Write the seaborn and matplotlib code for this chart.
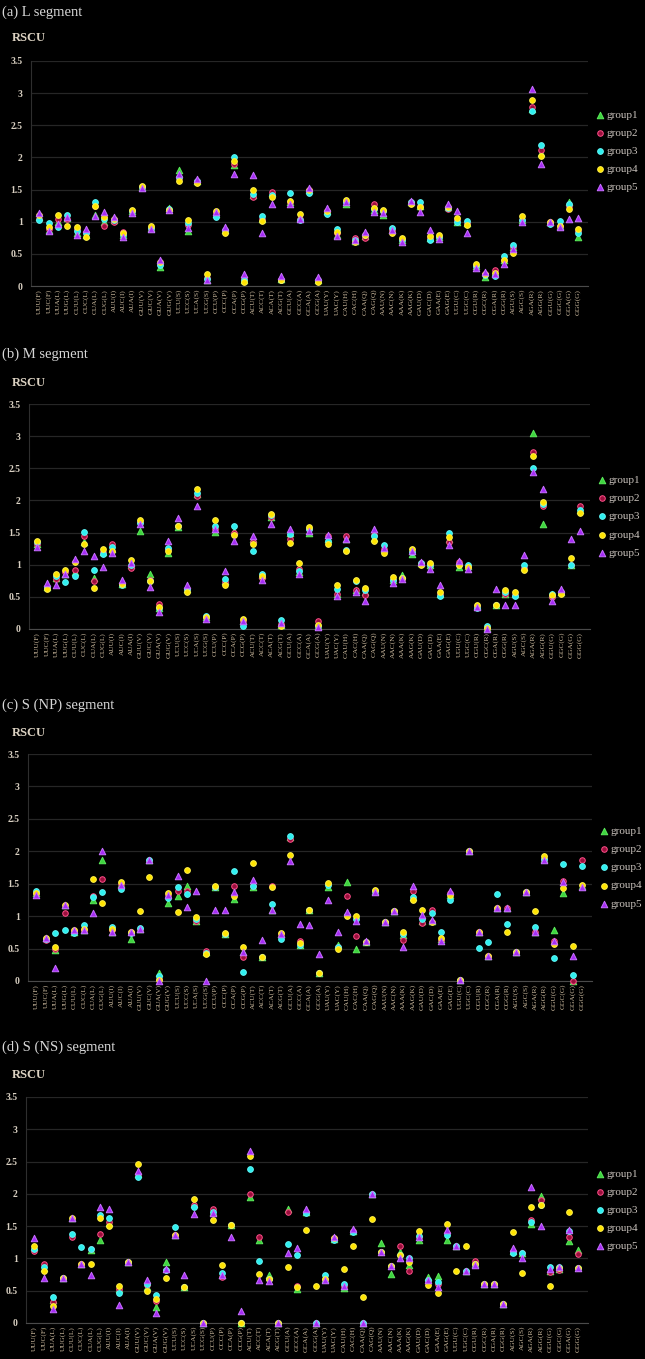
import pandas as pd
import matplotlib.pyplot as plt
import seaborn as sns

# Codon labels (x axis)
codons = [
    "UUU(F)", "UUC(F)", "UUA(L)", "UUG(L)", "CUU(L)", "CUC(L)", "CUA(L)", "CUG(L)",
    "AUU(I)", "AUC(I)", "AUA(I)", "GUU(V)", "GUC(V)", "GUA(V)", "GUG(V)",
    "UCU(S)", "UCC(S)", "UCA(S)", "UCG(S)", "CCU(P)", "CCC(P)", "CCA(P)", "CCG(P)",
    "ACU(T)", "ACC(T)", "ACA(T)", "ACG(T)", "GCU(A)", "GCC(A)", "GCA(A)", "GCG(A)",
    "UAU(Y)", "UAC(Y)", "CAU(H)", "CAC(H)", "CAA(Q)", "CAG(Q)", "AAU(N)", "AAC(N)",
    "AAA(K)", "AAG(K)", "GAU(D)", "GAC(D)", "GAA(E)", "GAG(E)", "UGU(C)", "UGC(C)",
    "CGU(R)", "CGC(R)", "CGA(R)", "CGG(R)", "AGU(S)", "AGC(S)", "AGA(R)", "AGG(R)",
    "GGU(G)", "GGC(G)", "GGA(G)", "GGG(G)",
]
groups = ["group1", "group2", "group3", "group4", "group5"]

# (a) L segment
L_g1 = [1.08, 0.87, 1.00, 1.06, 0.82, 0.80, 1.10, 1.00, 1.02, 0.79, 1.16, 1.54, 0.90, 0.29, 1.22,
        1.80, 0.85, 1.63, 0.10, 1.12, 0.87, 1.88, 0.10, 1.41, 1.05, 1.44, 0.11, 1.30, 1.06, 1.49, 0.10,
        1.17, 0.80, 1.28, 0.70, 0.78, 1.18, 1.10, 0.87, 0.71, 1.30, 1.24, 0.75, 0.76, 1.23, 1.00, 0.98,
        0.31, 0.14, 0.20, 0.40, 0.60, 1.02, 2.76, 2.07, 1.00, 0.94, 1.31, 0.76]
L_g2 = [1.05, 0.88, 1.04, 1.05, 0.88, 0.84, 1.25, 0.94, 1.00, 0.84, 1.16, 1.54, 0.90, 0.35, 1.18,
        1.68, 0.95, 1.63, 0.12, 1.13, 0.87, 1.90, 0.12, 1.39, 1.05, 1.46, 0.10, 1.30, 1.05, 1.49, 0.10,
        1.17, 0.82, 1.30, 0.74, 0.74, 1.28, 1.16, 0.87, 0.71, 1.30, 1.25, 0.75, 0.76, 1.20, 1.03, 0.98,
        0.31, 0.18, 0.25, 0.40, 0.60, 1.02, 2.78, 2.11, 1.00, 0.94, 1.24, 0.85]
L_g3 = [1.02, 0.98, 0.92, 1.10, 0.85, 0.82, 1.30, 1.05, 1.03, 0.80, 1.16, 1.54, 0.90, 0.33, 1.20,
        1.70, 0.98, 1.63, 0.11, 1.07, 0.87, 2.00, 0.10, 1.43, 1.09, 1.42, 0.09, 1.45, 1.02, 1.45, 0.10,
        1.12, 0.89, 1.30, 0.72, 0.80, 1.20, 1.16, 0.91, 0.71, 1.30, 1.30, 0.72, 0.76, 1.22, 1.00, 1.01,
        0.31, 0.17, 0.15, 0.47, 0.64, 1.02, 2.73, 2.19, 0.96, 1.01, 1.27, 0.82]
L_g4 = [1.10, 0.92, 1.10, 0.93, 0.92, 0.76, 1.24, 1.07, 1.04, 0.82, 1.19, 1.56, 0.93, 0.37, 1.18,
        1.63, 1.02, 1.61, 0.18, 1.17, 0.83, 1.94, 0.06, 1.49, 1.01, 1.39, 0.09, 1.33, 1.12, 1.49, 0.07,
        1.17, 0.84, 1.34, 0.69, 0.79, 1.21, 1.19, 0.83, 0.74, 1.28, 1.23, 0.78, 0.80, 1.23, 1.06, 0.95,
        0.34, 0.19, 0.20, 0.41, 0.51, 1.09, 2.89, 2.02, 0.99, 0.94, 1.20, 0.89]
L_g5 = [1.14, 0.86, 0.97, 1.08, 0.80, 0.89, 1.09, 1.15, 1.08, 0.77, 1.14, 1.52, 0.88, 0.41, 1.18,
        1.74, 0.91, 1.66, 0.09, 1.15, 0.92, 1.75, 0.18, 1.73, 0.83, 1.27, 0.15, 1.28, 1.05, 1.52, 0.14,
        1.22, 0.78, 1.30, 0.71, 0.84, 1.15, 1.14, 0.87, 0.68, 1.33, 1.15, 0.87, 0.73, 1.27, 1.17, 0.83,
        0.28, 0.22, 0.19, 0.35, 0.58, 1.00, 3.06, 1.90, 1.00, 0.92, 1.04, 1.06]

# (b) M segment
M_g1 = [1.33, 0.66, 0.80, 0.85, 0.88, 1.35, 0.79, 1.20, 1.25, 0.70, 1.00, 1.53, 0.85, 0.33, 1.18,
        1.58, 0.62, 2.10, 0.18, 1.51, 0.74, 1.52, 0.12, 1.40, 0.84, 1.74, 0.07, 1.50, 0.88, 1.49, 0.05,
        1.40, 0.55, 1.40, 0.60, 0.58, 1.41, 1.25, 0.77, 0.84, 1.16, 1.02, 1.00, 0.55, 1.40, 0.97, 0.98,
        0.36, 0.02, 0.37, 0.54, 0.55, 0.97, 3.05, 1.63, 0.55, 0.58, 1.00, 1.85]
M_g2 = [1.33, 0.65, 0.78, 0.88, 0.92, 1.44, 0.74, 1.20, 1.33, 0.70, 0.95, 1.66, 0.76, 0.39, 1.24,
        1.60, 0.62, 2.07, 0.18, 1.55, 0.73, 1.50, 0.13, 1.36, 0.80, 1.75, 0.08, 1.40, 0.93, 1.55, 0.13,
        1.44, 0.54, 1.44, 0.60, 0.53, 1.47, 1.25, 0.77, 0.78, 1.20, 1.02, 1.00, 0.55, 1.36, 1.05, 0.97,
        0.36, 0.02, 0.37, 0.55, 0.53, 0.95, 2.76, 1.92, 0.50, 0.58, 0.99, 1.92]
M_g3 = [1.35, 0.66, 0.82, 0.73, 0.82, 1.51, 0.92, 1.16, 1.27, 0.69, 1.00, 1.65, 0.75, 0.33, 1.26,
        1.60, 0.62, 2.12, 0.20, 1.60, 0.78, 1.61, 0.04, 1.22, 0.86, 1.77, 0.14, 1.48, 0.90, 1.55, 0.05,
        1.37, 0.62, 1.23, 0.74, 0.60, 1.45, 1.30, 0.77, 0.80, 1.20, 1.02, 1.00, 0.51, 1.49, 1.00, 1.00,
        0.32, 0.04, 0.37, 0.57, 0.52, 0.99, 2.51, 1.95, 0.55, 0.58, 1.00, 1.85]
M_g4 = [1.37, 0.63, 0.86, 0.92, 1.04, 1.32, 0.64, 1.24, 1.21, 0.70, 1.08, 1.70, 0.75, 0.35, 1.22,
        1.61, 0.57, 2.18, 0.18, 1.70, 0.69, 1.47, 0.16, 1.32, 0.82, 1.79, 0.04, 1.34, 1.02, 1.59, 0.07,
        1.32, 0.68, 1.22, 0.77, 0.64, 1.37, 1.18, 0.81, 0.80, 1.25, 1.00, 1.03, 0.58, 1.43, 1.00, 0.97,
        0.38, 0.02, 0.37, 0.60, 0.58, 0.92, 2.69, 1.98, 0.53, 0.54, 1.10, 1.81]
M_g5 = [1.28, 0.72, 0.68, 0.85, 1.09, 1.21, 1.13, 0.97, 1.18, 0.76, 1.03, 1.64, 0.66, 0.27, 1.37,
        1.72, 0.68, 1.92, 0.15, 1.55, 0.91, 1.37, 0.12, 1.44, 0.77, 1.64, 0.10, 1.56, 0.85, 1.52, 0.03,
        1.46, 0.52, 1.40, 0.58, 0.44, 1.56, 1.26, 0.72, 0.78, 1.22, 1.04, 0.94, 0.68, 1.30, 1.06, 0.93,
        0.35, 0.00, 0.63, 0.37, 0.37, 1.15, 2.44, 2.18, 0.44, 0.62, 1.40, 1.53]

# (c) S (NP) segment
NP_g1 = [1.36, 0.66, 0.48, 1.17, 0.76, 0.78, 1.25, 1.87, 0.76, 1.50, 0.65, 0.80, 1.86, 0.13, 1.20,
         1.31, 1.46, 0.93, 0.44, 1.45, 0.73, 1.27, 0.45, 1.45, 0.37, 1.10, 0.72, 2.22, 0.55, 1.09, 0.13,
         1.45, 0.55, 1.52, 0.49, 0.60, 1.39, 0.91, 1.08, 0.71, 1.30, 0.92, 0.93, 0.64, 1.33, 0.01, 2.00,
         0.75, 0.38, 1.13, 1.13, 0.45, 1.37, 0.75, 1.88, 0.79, 1.36, 0.00, 1.47]
NP_g2 = [1.35, 0.63, 0.50, 1.05, 0.77, 0.78, 1.31, 1.57, 0.78, 1.50, 0.75, 0.80, 1.87, 0.03, 1.32,
         1.38, 1.39, 0.92, 0.46, 1.45, 0.73, 1.46, 0.37, 1.46, 0.37, 1.46, 0.73, 2.19, 0.62, 1.09, 0.13,
         1.50, 0.52, 1.31, 0.70, 0.60, 1.39, 0.91, 1.08, 0.63, 1.38, 0.90, 1.09, 0.63, 1.36, 0.01, 2.00,
         0.75, 0.38, 1.13, 1.13, 0.45, 1.37, 0.75, 1.88, 0.62, 1.54, 0.00, 1.86]
NP_g3 = [1.38, 0.65, 0.74, 0.79, 0.74, 0.86, 1.30, 1.37, 0.84, 1.42, 0.74, 0.82, 1.86, 0.08, 1.28,
         1.45, 1.34, 0.95, 0.43, 1.45, 0.73, 1.69, 0.14, 1.46, 0.37, 1.19, 0.64, 2.24, 0.56, 1.09, 0.13,
         1.48, 0.52, 1.02, 0.95, 0.60, 1.39, 0.91, 1.08, 0.73, 1.30, 0.95, 1.05, 0.75, 1.25, 0.01, 2.00,
         0.51, 0.60, 1.34, 0.88, 0.45, 1.37, 0.83, 1.88, 0.35, 1.81, 0.09, 1.78]
NP_g4 = [1.35, 0.67, 0.52, 1.17, 0.78, 0.80, 1.57, 1.20, 0.80, 1.53, 0.76, 1.08, 1.60, 0.02, 1.36,
         1.06, 1.71, 0.99, 0.42, 1.46, 0.74, 1.31, 0.52, 1.82, 0.37, 1.45, 0.74, 1.95, 0.58, 1.09, 0.13,
         1.51, 0.50, 1.00, 1.00, 0.60, 1.41, 0.91, 1.08, 0.75, 1.25, 1.09, 0.91, 0.67, 1.33, 0.01, 2.00,
         0.75, 0.38, 1.13, 0.75, 0.45, 1.37, 1.08, 1.93, 0.57, 1.43, 0.54, 1.48]
NP_g5 = [1.33, 0.67, 0.20, 1.17, 0.78, 0.78, 1.05, 2.01, 0.75, 1.48, 0.75, 0.80, 1.86, 0.00, 1.33,
         1.62, 1.14, 1.38, 0.00, 1.09, 1.09, 1.37, 0.45, 1.56, 0.63, 1.09, 0.72, 1.85, 0.88, 0.86, 0.42,
         1.25, 0.75, 1.06, 0.93, 0.62, 1.37, 0.91, 1.08, 0.53, 1.46, 1.02, 0.94, 0.62, 1.38, 0.01, 2.00,
         0.75, 0.38, 1.13, 1.13, 0.45, 1.37, 0.75, 1.87, 0.62, 1.53, 0.38, 1.45]

# (d) S (NS) segment
NS_g1 = [1.18, 0.85, 0.35, 0.69, 1.62, 0.92, 1.13, 1.28, 1.55, 0.53, 0.94, 2.30, 0.55, 0.25, 0.94,
         1.36, 0.56, 1.84, 0.00, 1.72, 0.75, 1.52, 0.00, 1.95, 1.28, 0.74, 0.00, 1.77, 0.52, 1.72, 0.00,
         0.68, 1.30, 0.54, 1.43, 0.00, 2.00, 1.24, 0.76, 1.10, 0.90, 1.28, 0.71, 0.73, 1.28, 1.19, 0.80,
         0.92, 0.61, 0.61, 0.30, 1.12, 1.09, 1.54, 1.97, 0.80, 0.83, 1.27, 1.13]
NS_g2 = [1.12, 0.91, 0.33, 0.69, 1.33, 0.92, 1.15, 1.38, 1.56, 0.52, 0.94, 2.30, 0.59, 0.34, 0.82,
         1.36, 0.56, 1.82, 0.00, 1.77, 0.71, 1.52, 0.00, 2.00, 1.33, 0.68, 0.00, 1.72, 0.57, 1.72, 0.00,
         0.68, 1.32, 0.58, 1.43, 0.00, 2.00, 1.10, 0.89, 1.20, 0.80, 1.33, 0.65, 0.60, 1.40, 1.19, 0.80,
         0.96, 0.61, 0.61, 0.30, 1.12, 1.09, 1.59, 1.90, 0.79, 0.82, 1.33, 1.07]
NS_g3 = [1.15, 0.86, 0.40, 0.69, 1.38, 1.17, 1.15, 1.68, 1.63, 0.46, 0.94, 2.26, 0.60, 0.43, 0.82,
         1.49, 0.56, 1.80, 0.00, 1.72, 0.77, 1.52, 0.00, 2.38, 0.96, 0.68, 0.00, 1.23, 1.06, 1.70, 0.00,
         0.74, 1.28, 0.61, 1.41, 0.00, 2.00, 1.10, 0.89, 1.05, 1.00, 1.35, 0.66, 0.64, 1.37, 1.19, 0.80,
         0.92, 0.61, 0.61, 0.30, 1.09, 1.09, 1.56, 1.82, 0.87, 0.87, 1.43, 0.85]
NS_g4 = [1.20, 0.81, 0.26, 0.69, 1.63, 0.92, 0.92, 1.63, 1.50, 0.57, 0.94, 2.47, 0.50, 0.37, 0.70,
         1.36, 0.56, 1.92, 0.00, 1.59, 0.90, 1.52, 0.00, 2.58, 0.76, 0.68, 0.00, 0.86, 0.55, 1.44, 0.58,
         0.68, 1.32, 0.83, 1.19, 0.40, 1.61, 1.10, 0.89, 1.05, 0.94, 1.42, 0.59, 0.47, 1.54, 0.81, 1.20,
         0.92, 0.61, 0.61, 0.30, 1.41, 0.78, 1.80, 1.83, 0.57, 0.85, 1.72, 0.85]
NS_g5 = [1.31, 0.70, 0.22, 0.69, 1.63, 0.92, 0.75, 1.80, 1.77, 0.28, 0.95, 2.35, 0.66, 0.16, 0.83,
         1.36, 0.75, 1.69, 0.00, 1.70, 0.75, 1.33, 0.18, 2.67, 0.66, 0.65, 0.00, 1.08, 1.16, 1.76, 0.00,
         0.66, 1.33, 0.57, 1.45, 0.00, 2.00, 1.10, 0.89, 1.00, 1.00, 1.33, 0.67, 0.56, 1.44, 1.19, 0.80,
         0.90, 0.61, 0.61, 0.30, 1.16, 1.01, 2.10, 1.50, 0.83, 0.87, 1.44, 0.85]

# estilos dos grupos: (marcador, cor, borda, tamanho)
styles = {
    "group1": ("^", "#3fd43f", "#5aea5a", 22),
    "group2": ("o", "#9a0f3c", "#ff4f8a", 16),
    "group3": ("o", "#2ef0f0", "#5ff5f5", 17),
    "group4": ("o", "#ffe400", "#fff04a", 17),
    "group5": ("^", "#a62cf5", "#c770ff", 22),
}

# título, dados, posição do eixo (px), centro da legenda
panels = [
    ("(a) L segment", [L_g1, L_g2, L_g3, L_g4, L_g5], (31, 588, 61, 286), 12, 38, 0.60),
    ("(b) M segment", [M_g1, M_g2, M_g3, M_g4, M_g5], (29, 590, 404, 629), 354, 383, 0.50),
    ("(c) S (NP) segment", [NP_g1, NP_g2, NP_g3, NP_g4, NP_g5], (28, 592, 754, 981), 705, 733, 0.50),
    ("(d) S (NS) segment", [NS_g1, NS_g2, NS_g3, NS_g4, NS_g5], (26, 588, 1097, 1323), 1047, 1075, 0.50),
]

sns.set_style("dark", {"axes.facecolor": "black", "figure.facecolor": "black"})
plt.rcParams["font.family"] = ["Liberation Serif", "DejaVu Serif"]

W, H = 645, 1359
fig = plt.figure(figsize=(W / 100, H / 100), dpi=100, facecolor="black")

for title, series, (x0, x1, y0, y1), ty, ry, leg_y in panels:
    df = pd.DataFrame({
        "codon": codons * len(groups),
        "group": [g for g in groups for _ in codons],
        "rscu": [v for s in series for v in s],
    })

    ax = fig.add_axes([x0 / W, 1 - y1 / H, (x1 - x0) / W, (y1 - y0) / H])
    ax.set_facecolor("black")

    for g in groups:
        marker, face, edge, size = styles[g]
        sns.scatterplot(
            data=df[df["group"] == g],
            x="codon",
            y="rscu",
            marker=marker,
            color=face,
            edgecolor=edge,
            linewidth=0.7,
            s=size,
            label=g,
            clip_on=False,
            zorder=3,
            ax=ax,
            legend=False,
        )

    ax.set_xlim(-0.9, len(codons) - 1 + 1.05)
    ax.set_ylim(0, 3.5)
    ax.set_yticks([0, 0.5, 1, 1.5, 2, 2.5, 3, 3.5])
    ax.set_yticklabels(["0", "0.5", "1", "1.5", "2", "2.5", "3", "3.5"],
                       fontsize=7, fontweight="bold", color="#d9d0c2")
    ax.set_xticks(range(len(codons)))
    ax.set_xticklabels(codons, rotation=90, fontsize=5.3, color="#cdbb9f")
    ax.tick_params(axis="both", length=0)
    ax.tick_params(axis="y", pad=6)
    ax.tick_params(axis="x", pad=2)
    ax.set_xlabel("")
    ax.set_ylabel("")

    ax.grid(axis="y", color="#262626", linewidth=0.9)
    ax.grid(axis="x", visible=False)
    ax.set_axisbelow(True)
    for side in ["top", "right"]:
        ax.spines[side].set_visible(False)
    ax.spines["left"].set_color("#2e2e2e")
    ax.spines["bottom"].set_color("#4a4a4a")

    leg = ax.legend(
        loc="center left",
        bbox_to_anchor=(1.012, leg_y),
        frameon=False,
        fontsize=8,
        handletextpad=0.1,
        handlelength=1.0,
        labelspacing=0.75,
        borderaxespad=0,
        borderpad=0,
    )
    for t in leg.get_texts():
        t.set_color("#c9c2bc")

    fig.text(2 / W, 1 - ty / H, title, fontsize=10.5, color="#d6d6d6", va="center", ha="left")
    fig.text(12 / W, 1 - ry / H, "RSCU", fontsize=9, fontweight="bold", color="#ddd3c3",
             va="center", ha="left")

fig.savefig("out.png", dpi=100, facecolor="black")
